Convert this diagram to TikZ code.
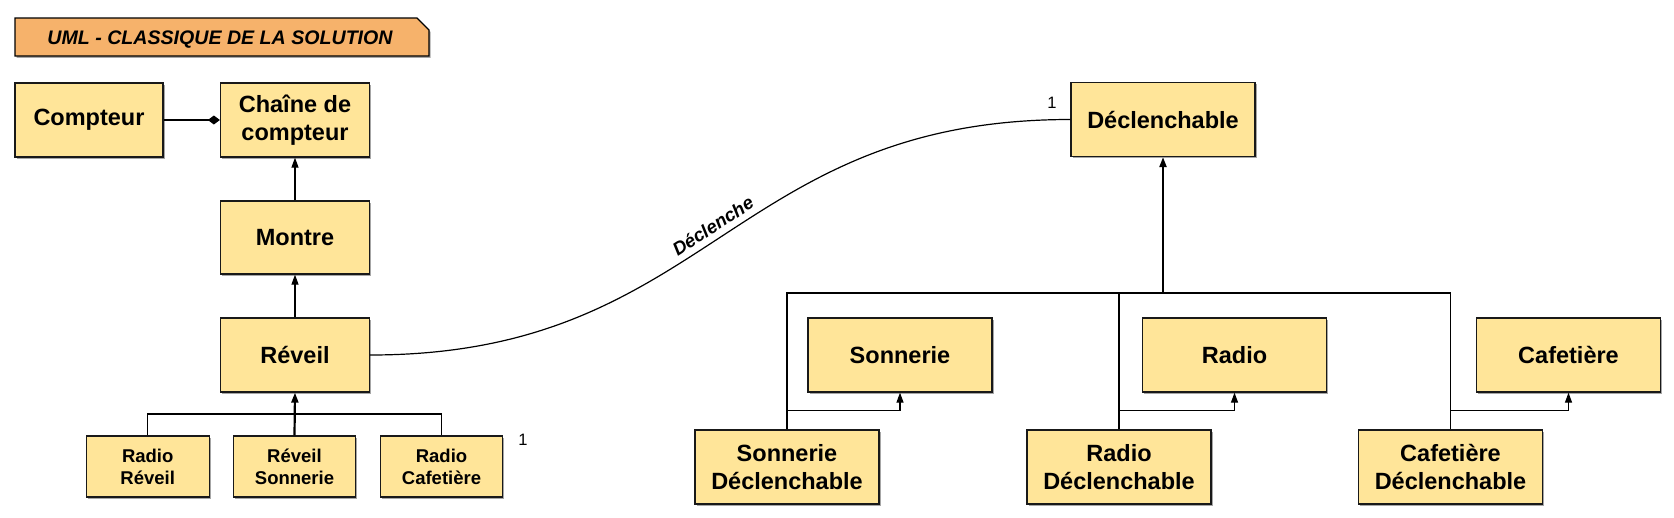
\documentclass[tikz,border=0pt]{standalone}
\usepackage{fontspec}
\setmainfont{Liberation Sans}
\usetikzlibrary{arrows.meta,shadows}
\definecolor{boxfill}{RGB}{255,229,153}
\definecolor{titlefill}{RGB}{246,178,107}
\begin{document}
\begin{tikzpicture}[x=1pt,y=-1pt,
 shade/.style={drop shadow={shadow xshift=1.5pt, shadow yshift=-1.8pt, opacity=0.35, fill=black}},
 cls/.style={draw=black!90, line width=1.3pt, fill=boxfill, inner sep=0pt, align=center,
   font=\bfseries\fontsize{23.5}{28}\selectfont, shade},
 big/.style={cls, minimum width=184pt, minimum height=74pt},
 mid/.style={cls, minimum width=149pt, minimum height=74pt},
 small/.style={cls, minimum width=122pt, minimum height=61pt, font=\bfseries\fontsize{18.5}{22}\selectfont},
 link/.style={line width=1.2pt, draw=black},
 gen/.style={link, -{Triangle[width=7pt,length=10pt]}},
 thickgen/.style={gen, line width=2.2pt},
 mult/.style={font=\fontsize{16.5}{19}\selectfont, inner sep=0pt},
 titletext/.style={font=\bfseries\itshape\fontsize{19.6}{23}\selectfont, inner sep=0pt},
]
\useasboundingbox (0,0) rectangle (1674,517);

% title banner
\draw[fill=titlefill, line width=1.3pt, shade] (15,18) -- (417,18) -- (429,30) -- (429,56) -- (15,56) -- cycle;
\node[titletext] (title) at (220,39.5) {UML - CLASSIQUE DE LA SOLUTION};

% left hierarchy
\node[mid, minimum width=148pt] (compteur) at (89,120) {Compteur};
\node[mid] (chaine) at (295,120) {Chaîne de\\compteur};
\node[mid, minimum height=73pt] (montre) at (295,237.5) {Montre};
\node[mid] (reveil) at (295,355) {Réveil};
\node[small, minimum width=123pt] (rr) at (147.7,466.5) {Radio\\Réveil};
\node[small] (rs) at (294.5,466.5) {Réveil\\Sonnerie};
\node[small] (rc) at (441.5,466.5) {Radio\\Cafetière};

% right hierarchy
\node[big] (decl) at (1163,119.5) {Déclenchable};
\node[big] (son) at (900,355) {Sonnerie};
\node[big] (rad) at (1234.5,355) {Radio};
\node[big] (caf) at (1568.5,355) {Cafetière};
\node[big] (sd) at (787,467) {Sonnerie\\Déclenchable};
\node[big] (rd) at (1119,467) {Radio\\Déclenchable};
\node[big] (cd) at (1450.5,467) {Cafetière\\Déclenchable};

% multiplicities
\node[mult] (m1) at (1052,103) {1};
\node[mult] (m2) at (523,440) {1};

% composition
\draw[link, -{Diamond[width=9pt,length=12pt]}] (compteur.east) -- (chaine.west);

% generalisations (left)
\draw[gen] (montre.north) -- (chaine.south);
\draw[gen] (reveil.north) -- (montre.south);
\coordinate (busA) at (294.5,414);
\draw[link] (rr.north) |- (busA) -| (rc.north);
\draw[thickgen] (rs.north) -- (reveil.south);

% generalisations (right)
\coordinate (busB) at (1163,293);
\draw[link] (sd.north) |- (busB) -| (cd.north);
\draw[link, line width=1.6pt] (rd.north) |- (busB);
\draw[thickgen] (busB) -- (decl.south);
\draw[gen] (sd.north) ++(0,-19) -| (son.south);
\draw[gen] (rd.north) ++(0,-19) -| (rad.south);
\draw[gen] (cd.north) ++(0,-19) -| (caf.south);

% association
\draw[link] (reveil.east) .. controls +(340,0) and +(-340,0) .. (decl.west)
  node[pos=0.5, sloped, above, inner sep=6pt, font=\bfseries\itshape\fontsize{18.5}{22}\selectfont] (lbl) {Déclenche};
\end{tikzpicture}
\end{document}
